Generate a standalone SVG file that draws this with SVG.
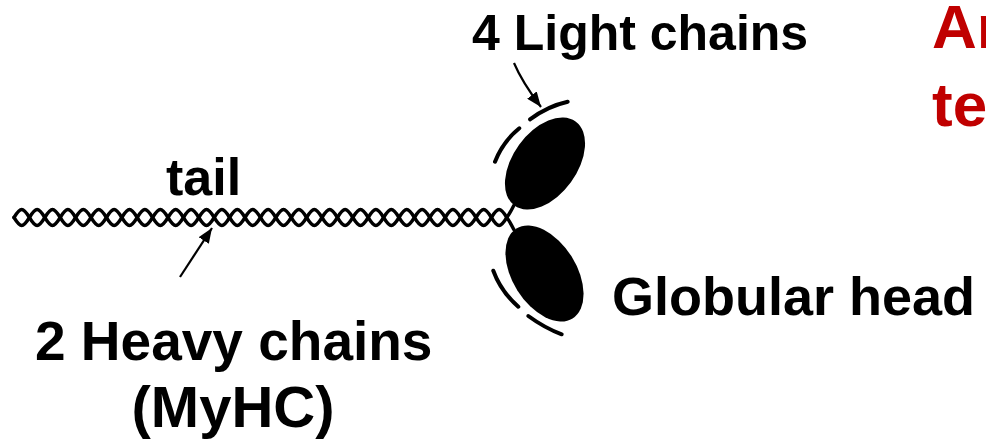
<svg xmlns="http://www.w3.org/2000/svg" width="986" height="446" viewBox="0 0 986 446">
  <style>
    .lbl { font-family: "Liberation Sans", Arial, sans-serif; font-weight: bold; fill: #000; }
    .red { font-family: "Liberation Sans", Arial, sans-serif; font-weight: bold; fill: #c00000; font-size: 62px; }
    .strand { fill: none; stroke: #000; stroke-width: 3.4; stroke-linejoin: round; stroke-linecap: round; }
    .chain { fill: none; stroke: #000; stroke-width: 4; stroke-linecap: round; }
    .head { fill: #000; }
    .pointer { fill: none; stroke: #000; stroke-width: 2.2; }
  </style>
  <defs>
    <marker id="ah" markerWidth="16" markerHeight="12" refX="15" refY="6" orient="auto" markerUnits="userSpaceOnUse">
      <path d="M0,0 L15,6 L0,12 z" fill="#000"/>
    </marker>
  </defs>
  <rect width="986" height="446" fill="#fff"/>

  <!-- coiled-coil tail: two intertwined heavy-chain strands -->
  <g id="tail">
    <path class="strand" d="M14,217.5 c6.54,-10.67 8.86,-10.67 15.4,0
      s8.86,10.67 15.4,0 s8.86,-10.67 15.4,0 s8.86,10.67 15.4,0 s8.86,-10.67 15.4,0
      s8.86,10.67 15.4,0 s8.86,-10.67 15.4,0 s8.86,10.67 15.4,0 s8.86,-10.67 15.4,0
      s8.86,10.67 15.4,0 s8.86,-10.67 15.4,0 s8.86,10.67 15.4,0 s8.86,-10.67 15.4,0
      s8.86,10.67 15.4,0 s8.86,-10.67 15.4,0 s8.86,10.67 15.4,0 s8.86,-10.67 15.4,0
      s8.86,10.67 15.4,0 s8.86,-10.67 15.4,0 s8.86,10.67 15.4,0 s8.86,-10.67 15.4,0
      s8.86,10.67 15.4,0 s8.86,-10.67 15.4,0 s8.86,10.67 15.4,0 s8.86,-10.67 15.4,0
      s8.86,10.67 15.4,0 s8.86,-10.67 15.4,0 s8.86,10.67 15.4,0 s8.86,-10.67 15.4,0
      s8.86,10.67 15.4,0 s8.86,-10.67 15.4,0 s8.86,10.67 15.4,0
      q3,-4 7,-12"/>
    <path class="strand" d="M14,217.5 c6.54,10.67 8.86,10.67 15.4,0
      s8.86,-10.67 15.4,0 s8.86,10.67 15.4,0 s8.86,-10.67 15.4,0 s8.86,10.67 15.4,0
      s8.86,-10.67 15.4,0 s8.86,10.67 15.4,0 s8.86,-10.67 15.4,0 s8.86,10.67 15.4,0
      s8.86,-10.67 15.4,0 s8.86,10.67 15.4,0 s8.86,-10.67 15.4,0 s8.86,10.67 15.4,0
      s8.86,-10.67 15.4,0 s8.86,10.67 15.4,0 s8.86,-10.67 15.4,0 s8.86,10.67 15.4,0
      s8.86,-10.67 15.4,0 s8.86,10.67 15.4,0 s8.86,-10.67 15.4,0 s8.86,10.67 15.4,0
      s8.86,-10.67 15.4,0 s8.86,10.67 15.4,0 s8.86,-10.67 15.4,0 s8.86,10.67 15.4,0
      s8.86,-10.67 15.4,0 s8.86,10.67 15.4,0 s8.86,-10.67 15.4,0 s8.86,10.67 15.4,0
      s8.86,-10.67 15.4,0 s8.86,10.67 15.4,0 s8.86,-10.67 15.4,0
      q3,4 7,12"/>
  </g>

  <!-- two globular heads -->
  <g id="head-upper">
    <ellipse class="head" cx="545" cy="163.5" rx="52" ry="32" transform="rotate(-54 545 163.5)"/>
  </g>
  <g id="head-lower">
    <ellipse class="head" cx="544.5" cy="273.5" rx="53" ry="32" transform="rotate(58 544.5 273.5)"/>
  </g>

  <!-- light chains wrapped around the heads -->
  <g id="light-chains">
    <path class="chain" d="M495,161.7 Q502.8,141.6 519.3,128.3"/>
    <path class="chain" d="M530,119.3 Q547.8,106.1 567.7,101.7"/>
    <path class="chain" d="M493.3,270.7 Q500.8,291.3 518.3,306.7"/>
    <path class="chain" d="M528.3,316 Q545,328.2 561.7,334.3"/>
  </g>

  <!-- pointer arrows -->
  <g id="connectors">
    <path class="pointer" d="M514,63 Q522,82 541,107" marker-end="url(#ah)"/>
    <path class="pointer" d="M180,277 L212,228" marker-end="url(#ah)"/>
  </g>

  <!-- labels -->
  <g id="label-light"><text class="lbl" x="472" y="50" font-size="50">4 Light chains</text></g>
  <g id="label-tail"><text class="lbl" x="166" y="195" font-size="52">tail</text></g>
  <g id="label-head"><text class="lbl" x="612" y="315" font-size="54">Globular head</text></g>
  <g id="label-heavy">
    <text class="lbl" x="35" y="360" font-size="55">2 Heavy chains</text>
    <text class="lbl" x="233" y="427" font-size="58" text-anchor="middle">(MyHC)</text>
  </g>
  <g id="label-red">
    <text class="red" x="932" y="48">An</text>
    <text class="red" x="932" y="126">te</text>
  </g>
</svg>
